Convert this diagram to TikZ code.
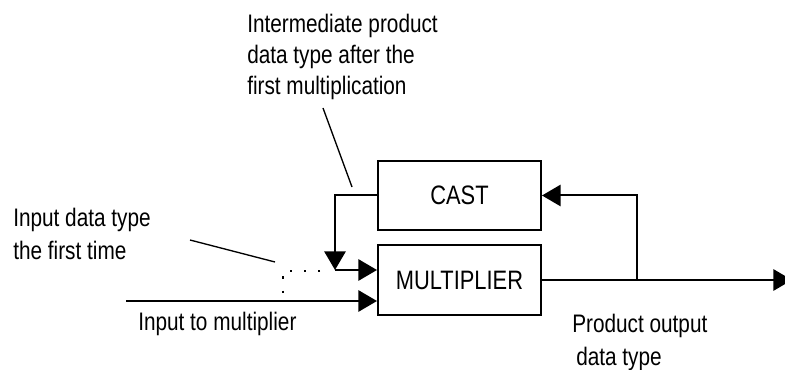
\documentclass[tikz,border=0pt]{standalone}
\usepackage{fontspec}
\setmainfont{Liberation Sans}[FakeStretch=0.82]
\usetikzlibrary{arrows.meta}
\begin{document}
\begin{tikzpicture}[x=0.75pt,y=-0.75pt,
  lbl/.style={anchor=base west,inner sep=0pt,font=\fontsize{19}{23}\selectfont},
  blk/.style={draw,line width=1.5pt,inner sep=0pt,minimum width=122.25pt,font=\fontsize{20}{24}\selectfont},
  wire/.style={line width=1.5pt},
  arr/.style={wire,-{Triangle[length=14pt,width=16pt]}},
  leader/.style={line width=1pt},
  dotline/.style={line width=1.6pt,dash pattern=on 1.6pt off 9pt}]
\useasboundingbox (0,0) rectangle (785,370);
\node[blk,minimum height=51.75pt] (cast) at (459.5,195.5) {CAST};
\node[blk,minimum height=52.5pt] (mult) at (459.5,280) {MULTIPLIER};
% labels
\node[lbl] (t1) at (247,33) {Intermediate product};
\node[lbl] (t2) at (247,64) {data type after the};
\node[lbl] (t3) at (247,95) {first multiplication};
\node[lbl] (t4) at (13,227) {Input data type};
\node[lbl] (t5) at (13,260) {the first time};
\node[lbl] (t6) at (138,330) {Input to multiplier};
\node[lbl] (t7) at (572,332) {Product output};
\node[lbl] (t8) at (576,365) {data type};
% coordinates
\coordinate (fb) at (335,270);
\coordinate (in) at (126,301);
\coordinate (br) at (637,280);
\coordinate (out) at (792,280);
\coordinate (d1) at (320,271);
\coordinate (d2) at (283,271);
\coordinate (d3) at (283,298);
\coordinate (l1a) at (323,108);
\coordinate (l1b) at (352,187);
\coordinate (l2a) at (190,240);
\coordinate (l2b) at (275,262);
% connectors
\draw[arr] (cast.west) -| (fb);
\draw[arr] (fb) -- (mult.west |- fb);
\draw[arr] (in) -- (mult.west |- in);
\draw[arr] (mult.east) -- (out);
\draw[arr] (br) |- (cast.east);
\draw[dotline] (d1) -- (d2) -- (d3);
\draw[leader] (l1a) -- (l1b);
\draw[leader] (l2a) -- (l2b);
\end{tikzpicture}
\end{document}
